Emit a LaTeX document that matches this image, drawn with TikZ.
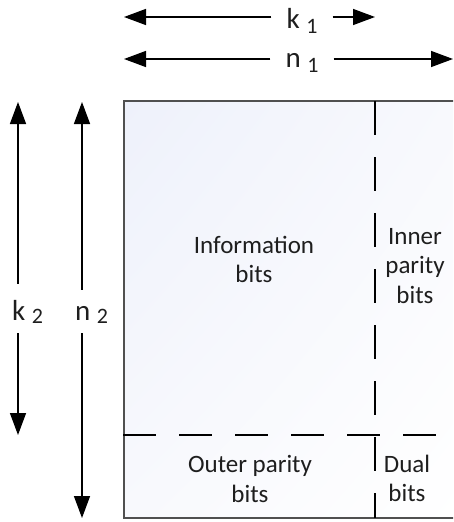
\documentclass[tikz,border=0pt]{standalone}
\usepackage{fontspec}
\setmainfont{Carlito}
\usetikzlibrary{arrows.meta,shadings}

\definecolor{frame}{RGB}{80,80,80}
\definecolor{tintA}{RGB}{238,241,251}
\definecolor{tintB}{RGB}{248,249,253}
\definecolor{ink}{RGB}{30,30,30}

\begin{document}
\begin{tikzpicture}[x=1pt,y=-1pt,
  dimarrow/.style={line width=1.4pt, draw=black, -{Triangle[length=22pt,width=16pt]}},
  dimlbl/.style={font=\fontsize{29}{32}\selectfont, text=ink, inner sep=0pt},
  sub/.style={},
  regionlbl/.style={font=\fontsize{25}{29.5}\selectfont, text=ink, align=center, inner sep=0pt},
  divider/.style={line width=1.4pt, draw=black, dash pattern=on 34pt off 22pt},
  boxedge/.style={line width=2pt, draw=frame}]
\useasboundingbox (0,0) rectangle (453,522);
\clip (0,0) rectangle (453,522);

% codeword array: tinted background and outer frame
\shade[upper left=tintA, upper right=tintB, lower left=tintB, lower right=white]
  (124,101) rectangle (460,518);
\draw[boxedge] (460,101) -- (124,101) -- (124,518) -- (460,518);

% partition lines
\coordinate (hdivL) at (123,435);
\coordinate (hdivR) at (453,435);
\coordinate (vdivT) at (375,101);
\coordinate (vdivB) at (375,518);
\draw[divider, dash pattern=on 33pt off 23pt] (hdivL) -- (hdivR);
\draw[divider] (vdivT) -- (vdivB);

% region labels
\node[regionlbl] (info)  at (254,259.5) {Information\\bits};
\node[regionlbl] (inner) at (415,266)   {Inner\\parity\\bits};
\node[regionlbl] (outer) at (250,479)   {Outer parity\\bits};
\node[regionlbl] (dual)  at (407,478.5) {Dual\\bits};

% horizontal dimensions
\node[dimlbl, anchor=base, inner xsep=15pt] (k1) at (302,28)
  {k \raisebox{-5pt}{\fontsize{22}{22}\selectfont 1}};
\node[dimlbl, anchor=base, inner xsep=15pt] (n1) at (302,67)
  {n \raisebox{-5pt}{\fontsize{22}{22}\selectfont 1}};
\coordinate (k1L) at (124,17);
\coordinate (k1R) at (375,17);
\coordinate (n1L) at (124,59);
\coordinate (n1R) at (453,59);
\draw[dimarrow] (k1L -| k1.west) -- (k1L);
\draw[dimarrow] (k1R -| k1.east) -- (k1R);
\draw[dimarrow] (n1L -| n1.west) -- (n1L);
\draw[dimarrow] (n1R -| n1.east) -- (n1R);

% vertical dimensions
\node[dimlbl, anchor=base west] (k2) at (12,320)
  {k \raisebox{-3pt}{\fontsize{22}{22}\selectfont 2}};
\node[dimlbl, anchor=base west] (n2) at (75,320)
  {n \raisebox{-3pt}{\fontsize{22}{22}\selectfont 2}};
\coordinate (k2T) at (18,102);
\coordinate (k2B) at (18,435);
\coordinate (n2T) at (82,102);
\coordinate (n2B) at (82,518);
\draw[dimarrow] ([yshift=16pt]k2.north -| k2T) -- (k2T);
\draw[dimarrow] ([yshift=-10pt]k2.south -| k2B) -- (k2B);
\draw[dimarrow] ([yshift=16pt]n2.north -| n2T) -- (n2T);
\draw[dimarrow] ([yshift=-10pt]n2.south -| n2B) -- (n2B);
\end{tikzpicture}
\end{document}
